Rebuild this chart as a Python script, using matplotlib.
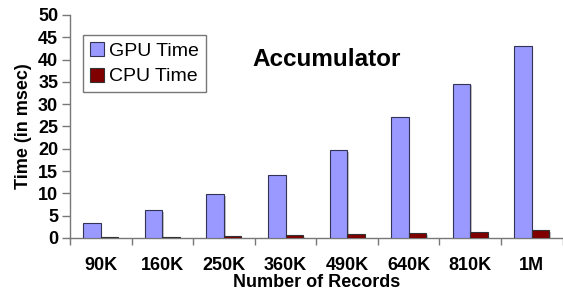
import matplotlib
matplotlib.use("Agg")
import matplotlib.pyplot as plt
import matplotlib.patheffects as pe
import numpy as np

categories = ["90K", "160K", "250K", "360K", "490K", "640K", "810K", "1M"]
gpu_time = [3.3, 6.2, 9.9, 14.1, 19.7, 27.2, 34.6, 43.1]
cpu_time = [0.15, 0.25, 0.4, 0.6, 0.8, 1.1, 1.4, 1.7]
yticks = [0, 5, 10, 15, 20, 25, 30, 35, 40, 45, 50]

plt.rcParams['font.family'] = ['Liberation Sans', 'DejaVu Sans']

fig = plt.figure(figsize=(5.63, 2.97), dpi=100)
ax = fig.add_axes([0.1243, 0.1987, 0.875, 0.7508])

x = np.arange(len(categories))
w = 0.285
shadow = [pe.SimplePatchShadow(offset=(1.2, -1.2), shadow_rgbFace='#aaaaaa', alpha=0.7), pe.Normal()]
b1 = ax.bar(x - w/2, gpu_time, w, color='#9999FF', edgecolor='#333355', linewidth=0.8,
            label='GPU Time', path_effects=shadow, zorder=3)
b2 = ax.bar(x + w/2, cpu_time, w, color='#800000', edgecolor='#333333', linewidth=0.8,
            label='CPU Time', path_effects=shadow, zorder=3)

ax.set_xlim(-0.5, len(categories) - 0.5)
ax.set_ylim(0, 50)
ax.set_yticks(yticks)
ax.set_yticklabels([str(v) for v in yticks], fontsize=13, fontweight='bold')
ax.set_xticks(x)
ax.set_xticklabels(categories, fontsize=13, fontweight='bold')
ax.set_xticks(np.arange(-0.5, len(categories)), minor=True)
ax.tick_params(axis='x', which='major', length=0, pad=14)
ax.tick_params(axis='x', which='minor', length=5, width=1, color='#777777', direction='out')
ax.tick_params(axis='y', length=5.5, width=1, color='#777777', direction='out', pad=3)

for s in ['top', 'right']:
    ax.spines[s].set_visible(False)
for s in ['left', 'bottom']:
    ax.spines[s].set_color('#777777')
    ax.spines[s].set_linewidth(1)

ax.set_xlabel('Number of Records', fontsize=13, fontweight='bold', labelpad=0)
ax.set_ylabel('Time (in msec)', fontsize=13, fontweight='bold', labelpad=4)

ax.text(0.52, 0.8, 'Accumulator', transform=ax.transAxes, fontsize=17.5, fontweight='bold',
        ha='center', va='center')

leg = ax.legend(loc='upper left', bbox_to_anchor=(0.026, 0.91), fontsize=14, frameon=True,
                fancybox=False, handlelength=0.75, handleheight=0.75, handletextpad=0.25,
                borderpad=0.35, labelspacing=0.4, borderaxespad=0)
leg.get_frame().set_edgecolor('#555555')
leg.get_frame().set_linewidth(1)
for h in leg.legend_handles:
    h.set_path_effects([])

fig.savefig('out.png', dpi=100)
